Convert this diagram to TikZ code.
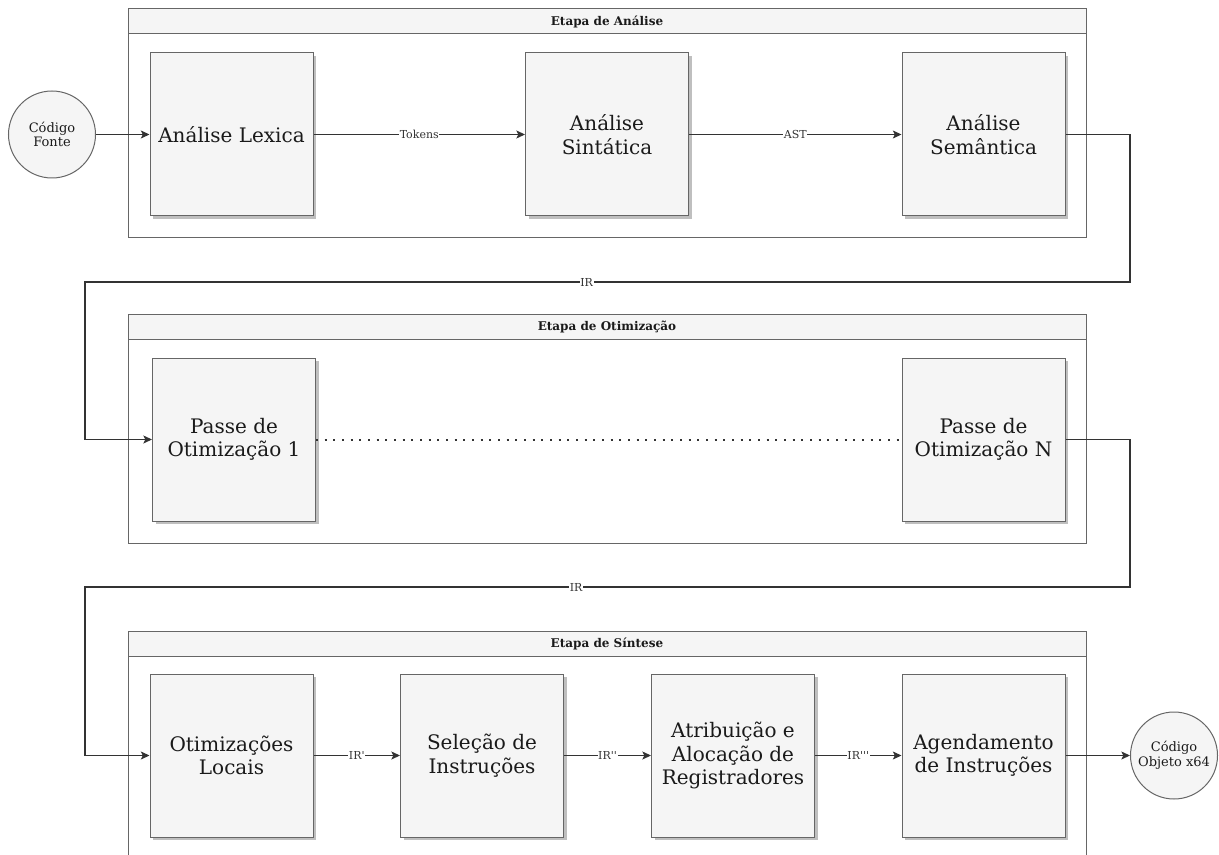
\documentclass[tikz,border=0pt]{standalone}
\usepackage{fontspec}
\setmainfont{DejaVu Serif}
\usetikzlibrary{arrows.meta,shadows}

\definecolor{boxfill}{HTML}{F5F5F5}
\definecolor{boxline}{HTML}{666666}
\definecolor{edgeline}{HTML}{333333}
\definecolor{txt}{HTML}{1A1A1A}

\tikzset{
  stagebox/.style={draw=boxline, fill=boxfill, line width=0.75pt,
    minimum width=122.25pt, minimum height=122.25pt, inner sep=2pt,
    align=center, text=txt, font=\fontsize{15}{17.5}\selectfont,
    drop shadow={shadow xshift=2.25pt, shadow yshift=-2.25pt, fill=black!25, opacity=1}},
  terminal/.style={circle, draw=boxline, fill=boxfill, line width=0.75pt,
    minimum size=65.25pt, inner sep=0pt, align=center, text=txt,
    font=\fontsize{9.75}{11}\selectfont},
  panel/.style={draw=boxline, line width=0.75pt},
  panelhead/.style={draw=boxline, fill=boxfill, line width=0.75pt},
  headtext/.style={font=\fontsize{9}{10}\selectfont\bfseries, text=txt},
  flow/.style={draw=edgeline, line width=0.85pt, -{Stealth[length=6.5pt, width=6pt, inset=1.5pt]}},
  lbl/.style={fill=white, inner sep=0.5pt, text=edgeline, font=\fontsize{8.25}{9}\selectfont},
}

\begin{document}
\begin{tikzpicture}[x=0.75pt, y=-0.75pt]
\useasboundingbox (0,0) rectangle (1219,855);
\clip (0,0) rectangle (1219,855);

% --- stage panels ---
\draw[panel] (128,9) rectangle (1086,238);
\draw[panelhead] (128,9) rectangle (1086,34);
\node[headtext] (h1) at (607,21.5) {Etapa de Análise};

\draw[panel] (128,314) rectangle (1086,543);
\draw[panelhead] (128,314) rectangle (1086,339);
\node[headtext] (h2) at (607,326.5) {Etapa de Otimização};

\draw[panel] (128,631) rectangle (1086,880);
\draw[panelhead] (128,631) rectangle (1086,656);
\node[headtext] (h3) at (607,643.5) {Etapa de Síntese};

% --- analysis stage ---
\node[terminal] (src) at (52,134.5) {Código\\Fonte};
\node[stagebox] (lex) at (231.5,134.5) {Análise Lexica};
\node[stagebox] (sin) at (607,134.5) {Análise\\Sintática};
\node[stagebox] (sem) at (983.5,134.5) {Análise\\Semântica};

% --- optimisation stage ---
\node[stagebox] (p1) at (234,439.5) {Passe de\\Otimização 1};
\node[stagebox] (pn) at (983.5,439.5) {Passe de\\Otimização N};

% --- synthesis stage ---
\node[stagebox] (loc) at (231.5,755.5) {Otimizações\\Locais};
\node[stagebox] (sel) at (482,755.5) {Seleção de\\Instruções};
\node[stagebox] (reg) at (733,755.5) {Atribuição e\\Alocação de\\Registradores};
\node[stagebox] (sch) at (983.5,755.5) {Agendamento\\de Instruções};
\node[terminal] (obj) at (1174,755.5) {Código\\Objeto x64};

% --- routing corners ---
\coordinate (ra) at (1130,282);
\coordinate (la) at (85,282);
\coordinate (rb) at (1130,587);
\coordinate (lb) at (85,587);

% --- connectors ---
\draw[flow] (src) -- (lex);
\draw[flow] (lex) -- node[lbl]{Tokens} (sin);
\draw[flow] (sin) -- node[lbl]{AST} (sem);
\draw[flow] (sem.east) -| (ra) -- node[lbl, pos=0.52]{IR} (la) |- (p1.west);
\draw[draw=edgeline, line width=1.5pt, dash pattern=on 1.5pt off 5pt] (p1.east) -- (pn.west);
\draw[flow] (pn.east) -| (rb) -- node[lbl, pos=0.53]{IR} (lb) |- (loc.west);
\draw[flow] (loc) -- node[lbl]{IR\textquotesingle} (sel);
\draw[flow] (sel) -- node[lbl]{IR\textquotesingle\textquotesingle} (reg);
\draw[flow] (reg) -- node[lbl]{IR\textquotesingle\textquotesingle\textquotesingle} (sch);
\draw[flow] (sch) -- (obj);
\end{tikzpicture}
\end{document}
